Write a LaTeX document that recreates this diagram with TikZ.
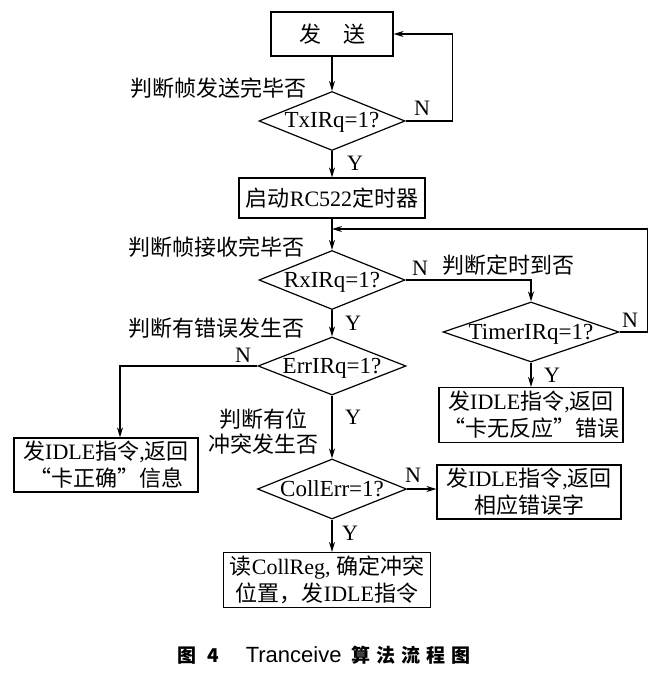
\documentclass[tikz,border=0pt]{standalone}
\usepackage{fontspec}
\setmainfont{Liberation Serif}
\newfontfamily\cjk{Noto Sans CJK SC}
\newfontfamily\capsans{Liberation Sans}
\newcommand{\zh}[1]{{\cjk #1}}
\usetikzlibrary{shapes.geometric}
\usetikzlibrary{arrows.meta}

\begin{document}
\begin{tikzpicture}[x=1pt,y=-1pt,
  box/.style={draw, line width=1.2pt, inner sep=0pt, align=center, font=\fontsize{22}{27}\selectfont},
  decision/.style={draw, diamond, line width=1.2pt, inner sep=0pt, aspect=2.5, text height=14pt, text depth=0pt, font=\fontsize{23}{26}\selectfont},
  note/.style={inner sep=0pt, align=center, font=\fontsize{22}{25}\selectfont},
  yn/.style={inner sep=0pt, font=\fontsize{22}{26}\selectfont},
  flow/.style={line width=1.2pt, -{Stealth[length=10pt,width=6pt]}},
  plain/.style={line width=1.2pt}]

\useasboundingbox (0,0) rectangle (661,676);

% boxes and decisions
\node[box, minimum width=122pt, minimum height=44pt] (send) at (332,34) {\zh{发\quad 送}};
\node[decision, minimum width=146pt, minimum height=59pt] (tx) at (332,121) {TxIRq=1?};
\node[box, minimum width=186pt, minimum height=40pt] (timer) at (332,198) {\zh{启动}RC522\zh{定时器}};
\coordinate (join) at (332,229);
\node[decision, minimum width=146pt, minimum height=59pt] (rx) at (332,280) {RxIRq=1?};
\node[decision, minimum width=176pt, minimum height=60pt, aspect=2.9] (tirq) at (531,332) {TimerIRq=1?};
\node[box, minimum width=184pt, minimum height=55pt] (noresp) at (531,415) {\zh{发}IDLE\zh{指令},\zh{返回}\\\zh{“卡无反应”错误}};
\node[decision, minimum width=148pt, minimum height=58pt] (err) at (332,366) {ErrIRq=1?};
\node[box, minimum width=184pt, minimum height=54pt] (ok) at (106,465) {\zh{发}IDLE\zh{指令},\zh{返回}\\\zh{“卡正确”信息}};
\node[decision, minimum width=149pt, minimum height=60pt] (coll) at (332,489) {CollErr=1?};
\node[box, minimum width=184pt, minimum height=54pt] (errcode) at (529,492) {\zh{发}IDLE\zh{指令},\zh{返回}\\\zh{相应错误字}};
\node[box, minimum width=207pt, minimum height=55pt] (collreg) at (327,580) {\zh{读}CollReg, \zh{确定冲突}\\\zh{位置，发}IDLE\zh{指令}};

% connectors
\draw[flow] (send) -- (tx);
\draw[flow] (tx) -- (timer);
\draw[plain] (timer) -- (join);
\draw[flow] (join) -- (rx);
\draw[flow] (tx.east) -- ++(47,0) |- (send.east);
\draw[flow] (rx.east) -| (tirq.north);
\draw[flow] (tirq.east) -- ++(28,0) |- (join);
\draw[flow] (tirq) -- (noresp);
\draw[flow] (rx) -- (err);
\draw[flow] (err.west) -| ([xshift=14pt]ok.north);
\draw[flow] (err) -- (coll);
\draw[flow] (coll.east) -- (coll.east -| errcode.west);
\draw[flow] (coll) -- (coll |- collreg.north);

% notes
\node[note, anchor=east] (q1) at (307,88) {\zh{判断帧发送完毕否}};
\node[note, anchor=east] (q2) at (305,247) {\zh{判断帧接收完毕否}};
\node[note, anchor=west] (q3) at (442,265) {\zh{判断定时到否}};
\node[note, anchor=east] (q4) at (305,328) {\zh{判断有错误发生否}};
\node[note] (q5) at (263,432) {\zh{判断有位}\\\zh{冲突发生否}};

\node[yn] (txn) at (422,108) {N};
\node[yn] (txy) at (355,163) {Y};
\node[yn] (rxn) at (420,268) {N};
\node[yn] (rxy) at (353,323) {Y};
\node[yn] (tin) at (630,320) {N};
\node[yn] (tiy) at (552,375) {Y};
\node[yn] (errn) at (243,355) {N};
\node[yn] (erry) at (353,417) {Y};
\node[yn] (colln) at (413,475) {N};
\node[yn] (colly) at (350,533) {Y};

\node[inner sep=0pt, anchor=west, font=\fontsize{19}{22}\selectfont\cjk\bfseries] (cap) at (177,655) {图\hspace{11pt}4\hspace{27pt}{\capsans\mdseries\fontsize{22}{24}\selectfont Tranceive}\hspace{10pt}算\hspace{6pt}法\hspace{6pt}流\hspace{6pt}程\hspace{6pt}图};

\end{tikzpicture}
\end{document}
